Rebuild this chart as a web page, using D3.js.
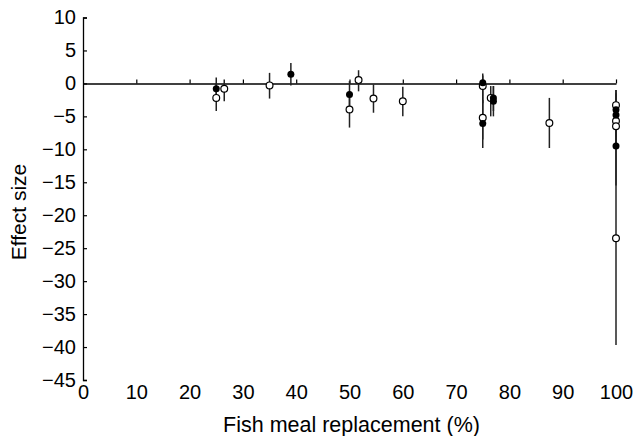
<!DOCTYPE html>
<html>
<head>
<meta charset="utf-8">
<script src="https://cdn.jsdelivr.net/npm/d3@7"></script>
<style>
  body { margin: 0; background: #fff; }
  svg { display: block; }
  text { font-family: "Liberation Sans", Arial, sans-serif; fill: #000; }
</style>
</head>
<body>
<div id="chart"></div>
<script>
var svgWidth = 633;
var svgHeight = 436;

// filled circles
var filledX  = [25, 39, 50, 75, 75, 77, 77, 100, 100, 100];
var filledY  = [-0.8, 1.4, -1.7, 0.1, -6.1, -2.2, -2.7, -4.0, -4.8, -9.5];
var filledLo = [-2.4, -0.3, -4.0, -2.0, -9.8, -4.2, -5.0, -7.0, -8.0, -15.5];
var filledHi = [0.9, 3.1, 0.35, 1.5, -2.5, -0.4, -0.4, -1.0, -1.5, -3.5];

// open circles
var openX  = [25, 26.5, 35, 50, 51.7, 54.5, 60, 75, 75, 76.5, 87.5, 100, 100, 100, 100];
var openY  = [-2.2, -0.8, -0.3, -3.95, 0.5, -2.3, -2.7, -0.4, -5.2, -2.2, -6.0, -3.3, -5.7, -6.5, -23.5];
var openLo = [-4.2, -2.7, -2.3, -6.7, -1.2, -4.45, -5.0, -3.0, -8.5, -5.0, -9.8, -6.0, -9.0, -10.0, -39.7];
var openHi = [0.0, 0.6, 1.6, -1.2, 2.0, -0.15, -0.5, 1.2, -2.0, -0.4, -2.2, -1.0, -2.5, -3.0, -7.3];

var xTicks = [0, 10, 20, 30, 40, 50, 60, 70, 80, 90, 100];
var yTicks = [10, 5, 0, -5, -10, -15, -20, -25, -30, -35, -40, -45];

var margin = { top: 17.5, right: 17, bottom: 56, left: 83 };
var chartWidth = svgWidth - margin.left - margin.right;
var chartHeight = svgHeight - margin.top - margin.bottom;

var svg = d3.select("#chart")
    .append("svg")
    .attr("width", svgWidth)
    .attr("height", svgHeight);

var chartGroup = svg.append("g")
    .attr("transform", `translate(${margin.left}, ${margin.top})`);

var xScale = d3.scaleLinear().domain([0, 100]).range([0, chartWidth]);
var yScale = d3.scaleLinear().domain([-45, 10]).range([chartHeight, 0]);

function fmt(v) {
    return v < 0 ? "\u2212" + Math.abs(v) : String(v);
}

// y axis, ticks pointing inward
var leftAxis = d3.axisLeft(yScale)
    .tickValues(yTicks)
    .tickSize(-4)
    .tickPadding(7)
    .tickFormat(fmt);

var yAxisG = chartGroup.append("g").call(leftAxis);
yAxisG.select(".domain").attr("stroke", "#000").attr("stroke-width", 1.3);
yAxisG.selectAll(".tick line").attr("stroke", "#000").attr("stroke-width", 1.2);
yAxisG.selectAll("text")
    .attr("font-size", 20)
    .attr("font-family", "Liberation Sans, Arial, sans-serif");

// zero line with small ticks
var zeroAxis = d3.axisTop(xScale)
    .tickValues(xTicks.slice(1))
    .tickSize(4)
    .tickSizeOuter(0)
    .tickFormat("");

var zeroG = chartGroup.append("g")
    .attr("transform", `translate(0, ${yScale(0)})`)
    .call(zeroAxis);
zeroG.select(".domain").attr("stroke", "#000").attr("stroke-width", 1.5);
zeroG.selectAll(".tick line").attr("stroke", "#000").attr("stroke-width", 1.2);

// x tick labels only
var bottomAxis = d3.axisBottom(xScale)
    .tickValues(xTicks)
    .tickSize(0)
    .tickPadding(5);

var xAxisG = chartGroup.append("g")
    .attr("transform", `translate(0, ${chartHeight})`)
    .call(bottomAxis);
xAxisG.select(".domain").remove();
xAxisG.selectAll("text")
    .attr("font-size", 20)
    .attr("font-family", "Liberation Sans, Arial, sans-serif");

// axis titles
chartGroup.append("text")
    .attr("x", chartWidth / 2 + 2)
    .attr("y", chartHeight + 52)
    .attr("text-anchor", "middle")
    .attr("font-size", 21.5)
    .text("Fish meal replacement (%)");

svg.append("text")
    .attr("transform", "translate(26, 212) rotate(-90)")
    .attr("text-anchor", "middle")
    .attr("font-size", 21)
    .text("Effect size");

// build point rows
var openData = openX.map((d, i) => ({ x: d, y: openY[i], lo: openLo[i], hi: openHi[i] }));
var filledData = filledX.map((d, i) => ({ x: d, y: filledY[i], lo: filledLo[i], hi: filledHi[i] }));
var allData = openData.concat(filledData);

var barGroup = chartGroup.append("g");
barGroup.selectAll("line")
    .data(allData)
    .enter()
    .append("line")
    .attr("x1", d => xScale(d.x))
    .attr("x2", d => xScale(d.x))
    .attr("y1", d => yScale(d.hi))
    .attr("y2", d => yScale(d.lo))
    .attr("stroke", "#222")
    .attr("stroke-width", 1.5);

chartGroup.append("g")
    .selectAll("circle")
    .data(openData)
    .enter()
    .append("circle")
    .attr("cx", d => xScale(d.x))
    .attr("cy", d => yScale(d.y))
    .attr("r", 3.4)
    .attr("fill", "#fff")
    .attr("stroke", "#000")
    .attr("stroke-width", 1.2);

chartGroup.append("g")
    .selectAll("circle")
    .data(filledData)
    .enter()
    .append("circle")
    .attr("cx", d => xScale(d.x))
    .attr("cy", d => yScale(d.y))
    .attr("r", 3.5)
    .attr("fill", "#000");
</script>
</body>
</html>
